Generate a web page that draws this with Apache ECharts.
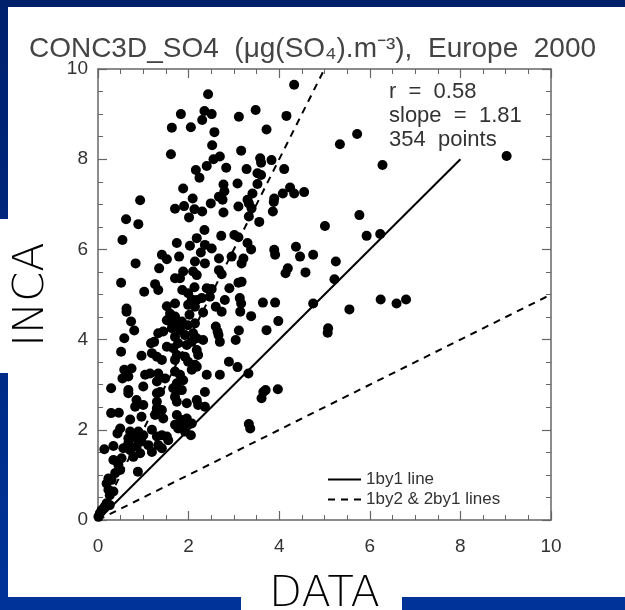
<!DOCTYPE html>
<html>
<head>
<meta charset="utf-8">
<script src="https://cdn.jsdelivr.net/npm/echarts@6/dist/echarts.min.js"></script>
<style>
  html, body { margin: 0; padding: 0; }
  body { width: 625px; height: 610px; position: relative; overflow: hidden;
         background: linear-gradient(#00206c, #003399); }
  .panel { position: absolute; background: #fff; }
  #chart { position: absolute; left: 0; top: 0; width: 625px; height: 610px; }
</style>
</head>
<body>
<div class="panel" style="left:8px;top:7px;right:0;bottom:13px;"></div>
<div class="panel" style="left:0;top:219px;width:60px;height:154px;"></div>
<div class="panel" style="left:241px;top:590px;width:161px;height:20px;"></div>
<div id="chart"></div>
<script>
// axis setup
var axisMin = 0, axisMax = 10, axisStep = 2;

// reference lines
var line1by1 = [[0, 0], [8, 8]];
var line2by1 = [[0, 0], [5, 10]];
var line1by2 = [[0, 0], [10, 5]];

// statistics shown in the corner
var statLines = ['r  =  0.58', 'slope  =  1.81', '354  points'];

// [DATA, INCA] pairs
var points = [
    [4.33,9.65],[2.43,9.44],[1.83,9.0],[2.35,9.07],[2.51,9.0],[2.30,8.87],[3.11,8.94],[3.48,9.09],[4.16,8.96],
    [1.63,8.70],[2.05,8.71],[2.57,8.60],[3.72,8.66],[5.34,8.33],[2.52,8.31],[1.61,8.11],[3.16,8.19],[2.55,8.0],
    [2.69,8.06],[2.40,7.85],[3.58,8.02],[3.60,7.92],[3.83,7.98],[2.16,7.76],[2.83,7.81],[3.28,7.78],[4.11,7.78],
    [2.24,7.59],[3.52,7.69],[3.60,7.65],[2.77,7.44],[3.08,7.46],[3.52,7.45],[1.88,7.35],[2.79,7.29],[4.24,7.37],
    [4.33,7.24],[4.55,7.27],[4.08,7.24],[3.41,7.24],[2.09,7.13],[2.67,7.17],[2.75,7.10],[0.93,7.09],[3.89,7.13],
    [3.88,7.05],[3.30,7.10],[3.33,7.02],[2.49,7.02],[1.70,6.90],[1.90,6.96],[2.13,6.89],[2.30,6.84],[2.77,6.82],
    [3.10,6.95],[3.39,6.91],[3.86,6.84],
    [5.72,8.56],[9.02,8.07],[6.28,7.87],[5.77,6.76],[5.93,6.30],[6.23,6.34],
    [0.62,6.67],[0.89,6.56],[2.01,6.71],[3.56,6.61],[3.33,6.73],[5.01,6.52],[0.54,6.21],[2.35,6.43],[2.72,6.30],
    [3.01,6.32],[3.10,6.27],[2.18,6.25],[1.74,6.14],[2.03,6.08],[2.36,6.10],[2.51,6.02],[3.30,6.14],[3.38,6.00],
    [3.89,5.99],[3.91,5.88],[4.37,6.06],[4.46,5.84],[4.75,5.88],[5.25,5.73],[1.41,5.88],[1.52,5.78],[1.79,5.84],
    [2.27,5.93],[2.67,5.80],[2.95,5.84],[3.21,5.80],[3.17,5.69],[0.83,5.69],[2.14,5.73],[2.36,5.69],[1.35,5.58],
    [4.19,5.58],[4.14,5.47],[4.58,5.49],[2.67,5.54],[2.73,5.45],[1.88,5.51],[2.10,5.51],[2.18,5.43],[1.70,5.36],
    [1.81,5.36],[0.51,5.26],[1.26,5.23],[1.33,5.10],[1.02,5.06],[3.10,5.26],[3.17,5.28],[2.90,5.14],[5.22,5.34],
    [2.40,5.14],[2.51,5.12],[1.86,5.10],[1.99,5.03],[2.13,5.16],[2.47,4.95],[2.29,4.92],[2.18,4.88],[2.07,4.89],
    [2.80,4.88],[3.13,4.92],[3.16,4.80],[3.64,4.82],[3.91,4.82],[4.75,4.80],[1.52,4.74],[1.70,4.80],[1.99,4.77],
    [2.14,4.73],[0.63,4.69],[0.63,4.62],[2.60,4.73],[2.73,4.62],[3.14,4.62],[1.59,4.58],[1.70,4.51],[1.59,4.47],
    [2.02,4.55],[2.32,4.60],[3.38,4.52],[0.73,4.40],[3.98,4.41],[1.63,4.36],[1.74,4.32],[1.85,4.40],[1.52,4.43],
    [1.98,4.32],[2.14,4.36],[1.63,4.25],[1.81,4.21],[0.80,4.20],[2.60,4.29],[2.64,4.18],[3.11,4.20],[3.72,4.21],
    [5.08,4.25],[5.07,4.15],[1.33,4.14],[1.44,4.18],[1.70,4.06],[1.92,4.10],[2.10,4.14],[0.58,4.03],[2.69,3.95],
    [2.66,4.10],[3.04,3.99],[1.17,3.92],[1.24,3.95],[1.52,3.84],[1.66,3.81],[1.77,3.92],[2.07,3.95],[2.18,4.03],
    [2.32,3.99],[1.96,3.88],[2.18,3.77],[2.21,3.66],[0.51,3.73],[0.96,3.64],[1.19,3.70],[1.30,3.62],[1.74,3.66],
    [1.92,3.62],[2.89,3.51],
    [5.55,4.67],[6.24,4.89],[6.59,4.80],[6.80,4.89],
    [1.41,3.55],[1.70,3.55],[1.99,3.51],[2.14,3.44],[0.58,3.33],[0.74,3.36],[0.54,3.14],[0.67,3.18],[1.04,3.22],
    [1.15,3.25],[1.33,3.25],[1.48,3.14],[1.30,3.07],[1.70,3.29],[1.81,3.22],[1.88,3.10],[1.74,3.03],[1.77,2.88],
    [2.07,3.33],[2.18,3.40],[2.40,3.22],[2.69,3.22],[3.08,3.39],[3.32,3.25],[0.29,2.92],[0.67,2.88],[0.67,2.81],
    [1.0,2.96],[1.30,2.81],[1.37,2.84],[1.66,2.92],[1.85,2.88],[2.36,2.84],[3.65,2.84],[3.70,2.88],[3.97,2.90],
    [3.61,2.70],[0.85,2.66],[1.0,2.55],[0.82,2.51],[1.30,2.62],[1.30,2.48],[1.41,2.44],[1.70,2.73],[1.74,2.62],
    [1.96,2.59],[2.18,2.66],[2.21,2.55],[2.36,2.51],[0.29,2.37],[0.46,2.38],[0.71,2.23],[0.96,2.29],[1.26,2.33],
    [1.44,2.25],[1.74,2.33],[1.85,2.22],[1.70,2.11],[1.96,2.25],[1.92,2.11],[2.07,2.14],[0.49,2.03],[0.43,1.92],
    [0.71,1.96],[0.67,1.81],[0.89,1.96],[1.0,1.88],[0.85,1.81],[0.96,1.74],[1.19,2.0],[1.30,1.85],[1.41,1.88],
    [1.52,1.85],[1.55,1.77],[1.77,2.03],[1.92,1.96],[2.05,1.88],[3.33,2.13],[3.36,2.03],[0.14,1.57],[0.34,1.64],
    [0.67,1.70],[0.56,1.59],[0.71,1.55],[0.85,1.63],[0.93,1.48],[0.78,1.40],[1.11,1.66],[1.19,1.51],[1.33,1.66],
    [1.41,1.59],[0.34,1.33],[0.52,1.37],[0.45,1.22],[0.49,1.11],[0.38,1.04],[0.88,1.07],[0.23,0.92],[0.19,0.81],
    [0.30,0.89],[0.23,0.67],[0.34,0.63],[0.26,0.55],[0.19,0.37],[0.15,0.30],[0.26,0.33],[0.08,0.22],[0.04,0.15],
    [0.01,0.07]
];

var labelFont = '"Liberation Sans", Arial, sans-serif';
var handFont = '"DejaVu Sans", sans-serif';
var axisColor = '#666';

function makeAxis(pos, showLabel, name, gap) {
    var ax = {
        type: 'value',
        position: pos,
        min: axisMin,
        max: axisMax,
        interval: axisStep,
        axisLine: {onZero: false, lineStyle: {color: axisColor, width: 1.5}},
        axisTick: {inside: true, length: 9, lineStyle: {color: axisColor, width: 1.2}},
        minorTick: {show: true, splitNumber: 4, length: 5, lineStyle: {color: axisColor, width: 1}},
        splitLine: {show: false},
        axisLabel: {show: showLabel, color: '#333', fontSize: 19, fontFamily: labelFont,
                    margin: (pos == 'bottom') ? 17 : 10}
    };
    if (name) {
        ax.name = name;
        ax.nameLocation = 'middle';
        ax.nameGap = gap;
        ax.nameTextStyle = {color: '#000', fontSize: 43, fontWeight: 300, fontFamily: handFont};
    }
    return ax;
}

var graphics = [];
for (var i = 0; i < statLines.length; i++) {
    graphics.push({
        type: 'text', left: 389, top: 81 + i * 24,
        style: {text: statLines[i], fill: '#333', fontSize: 22, fontFamily: labelFont}
    });
}

var myChart = echarts.init(document.getElementById('chart'));
var option = {
    animation: false,
    title: {
        text: 'CONC3D_SO4  (\u03bcg(SO\u2084).m\u207b\u00b3),  Europe  2000',
        left: 'center',
        top: 30,
        textStyle: {color: '#444', fontSize: 28, fontWeight: 'normal', fontFamily: labelFont}
    },
    grid: {left: 98, top: 69, width: 453, height: 451, outerBoundsMode: 'none'},
    legend: {
        orient: 'vertical',
        left: 322,
        top: 466,
        itemWidth: 33,
        itemHeight: 12,
        itemGap: 3,
        itemStyle: {opacity: 0},
        textStyle: {color: '#333', fontSize: 17, fontFamily: labelFont},
        data: ['1by1 line', '1by2 & 2by1 lines']
    },
    xAxis: [
        makeAxis('bottom', true, 'DATA', 53),
        makeAxis('top', false)
    ],
    yAxis: [
        makeAxis('left', true, 'INCA', 45),
        makeAxis('right', false)
    ],
    graphic: graphics,
    series: [
        {
            name: '1by1 line',
            type: 'line',
            data: line1by1,
            symbol: 'none',
            silent: true,
            itemStyle: {color: '#000'},
            lineStyle: {color: '#000', width: 2}
        },
        {
            name: '1by2 & 2by1 lines',
            type: 'line',
            data: line2by1,
            symbol: 'none',
            silent: true,
            itemStyle: {color: '#000'},
            lineStyle: {color: '#000', width: 2, type: [7, 6]}
        },
        {
            name: '1by2 & 2by1 lines',
            type: 'line',
            data: line1by2,
            symbol: 'none',
            silent: true,
            itemStyle: {color: '#000'},
            lineStyle: {color: '#000', width: 2, type: [7, 6]}
        },
        {
            name: 'points',
            type: 'scatter',
            data: points,
            symbolSize: 10,
            z: 5,
            itemStyle: {color: '#000', opacity: 1}
        }
    ]
};
myChart.setOption(option);
</script>
</body>
</html>
